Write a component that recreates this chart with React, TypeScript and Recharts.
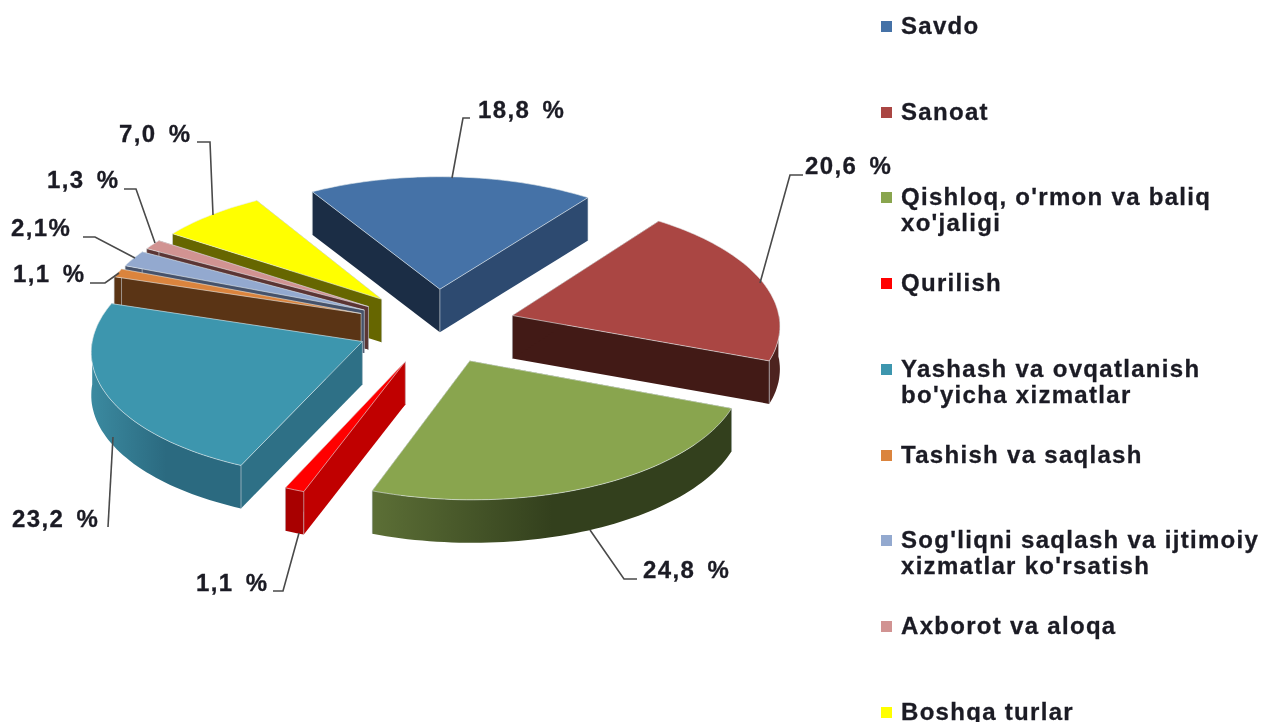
import React from 'react';
import { PieChart, Pie, Legend } from 'recharts';

const NAMES = [
  'Savdo',
  'Sanoat',
  "Qishloq, o'rmon va baliq xo'jaligi",
  'Qurilish',
  "Yashash va ovqatlanish bo'yicha xizmatlar",
  'Tashish va saqlash',
  "Sog'liqni saqlash va ijtimoiy xizmatlar ko'rsatish",
  'Axborot va aloqa',
  'Boshqa turlar',
];
const VALUES = [18.8, 20.6, 24.8, 1.1, 23.2, 1.1, 2.1, 1.3, 7.0];
const VALUE_LABELS = ['18,8 %', '20,6 %', '24,8 %', '1,1 %', '23,2 %', '1,1 %', '2,1%', '1,3 %', '7,0 %'];
const TOP_COLORS = ['#4572a7', '#aa4643', '#89a54e', '#ff0000', '#3d96ae', '#db843d', '#93a9cf', '#d19392', '#ffff00'];
// side wall colours: wall at clockwise start, wall at clockwise end, outer rim left, outer rim right
const SIDE_COLORS = [
  ['#1b2d45', '#2d4a70', '#2d4a70', '#2d4a70'],
  ['#421a16', '#421a16', '#4d231f', '#4d231f'],
  ['#33401d', '#33401d', '#5c6f36', '#33401d'],
  ['#c00000', '#c00000', '#a80000', '#a80000'],
  ['#2e7086', '#2e7086', '#3b8aa0', '#2b6a80'],
  ['#5a3415', '#5a3415', '#5a3415', '#5a3415'],
  ['#46526a', '#46526a', '#46526a', '#46526a'],
  ['#5b3534', '#5b3534', '#5b3534', '#5b3534'],
  ['#666600', '#666600', '#666600', '#666600'],
];
// label text spot, then leader line elbow and end, one per slice
const LABEL_SPOTS = [
  { x: 478, y: 118, line: '470,118 463,118 452,178' },
  { x: 805, y: 174, line: '803,175 790,175 760,283' },
  { x: 643, y: 578, line: '637,579 624,579 590,530' },
  { x: 196, y: 591, line: '273,591 283,591 299,533' },
  { x: 12, y: 527, line: '108,527 113,437' },
  { x: 13, y: 282, line: '90,283 105,283 119,273' },
  { x: 11, y: 236, line: '83,237 95,237 135,258' },
  { x: 47, y: 188, line: '124,189 136,189 155,243' },
  { x: 119, y: 142, line: '197,142 210,142 213,215' },
];

const FLAT = 0.47;
const PERSPECTIVE = 0.00025;
const EXPLODE = 80;
const DEPTH = 43;
const RAD = Math.PI / 180;
const FONT = '"Liberation Sans", Arial, sans-serif';

// painter's order: back slices first, so the table runs against the clock from Boshqa turlar
const table = NAMES.map((name, i) => ({ name, value: VALUES[i], fill: TOP_COLORS[i] })).reverse();

const poly = (pts: number[][]) => 'M' + pts.map((p) => p[0].toFixed(1) + ',' + p[1].toFixed(1)).join('L') + 'Z';

const Slice3D = (props: any) => {
  const { cx, cy, startAngle, endAngle, outerRadius, name, fill } = props;
  const idx = NAMES.indexOf(name);
  const sides = SIDE_COLORS[idx];
  const mid = ((startAngle + endAngle) / 2) * RAD;
  const ex = EXPLODE * Math.cos(mid);
  const ey = -EXPLODE * Math.sin(mid);
  const project = (gx: number, gy: number) => {
    const s = 1 + gy * PERSPECTIVE;
    return [cx + gx * s, cy + gy * FLAT * s];
  };
  const down = (p: number[]) => [p[0], p[1] + DEPTH];
  const steps = Math.ceil(Math.abs(endAngle - startAngle) / 1.5) + 1;
  const arc: number[][] = [];
  const front: number[][] = [];
  for (let i = 0; i <= steps; i++) {
    const a = (startAngle + ((endAngle - startAngle) * i) / steps) * RAD;
    const p = project(ex + outerRadius * Math.cos(a), ey - outerRadius * Math.sin(a));
    arc.push(p);
    // only the part of the outer rim that faces the viewer
    if (Math.sin(a) < 0.02) front.push(p);
  }
  const apex = project(ex, ey);
  const endCorner = arc[0];
  const startCorner = arc[arc.length - 1];
  const rim = [...front, ...front.map(down).reverse()];
  const gradId = 'rim-' + idx;
  const edge = (p: number[]) => (
    <path d={`M${p[0]},${p[1]}V${p[1] + DEPTH}`} stroke="#cfd6dc" strokeOpacity={0.6} fill="none" />
  );
  return (
    <g>
      <defs>
        <linearGradient id={gradId} x1="0" y1="0" x2="1" y2="0">
          <stop offset="0" stopColor={sides[2]} />
          <stop offset="0.5" stopColor={sides[3]} />
          <stop offset="1" stopColor={sides[3]} />
        </linearGradient>
      </defs>
      <path d={poly([apex, endCorner, down(endCorner), down(apex)])} fill={sides[1]} />
      <path d={poly([apex, startCorner, down(startCorner), down(apex)])} fill={sides[0]} />
      {front.length > 1 && <path d={poly(rim)} fill={`url(#${gradId})`} />}
      {edge(apex)}
      {edge(endCorner)}
      {edge(startCorner)}
      <path d={poly([apex, ...arc])} fill={fill} stroke="#e6ecef" strokeOpacity={0.6} strokeWidth={1} />
    </g>
  );
};

const renderLabel = (props: any) => {
  const idx = NAMES.indexOf(props.name);
  const spot = LABEL_SPOTS[idx];
  return (
    <g>
      <polyline points={spot.line} fill="none" stroke="#4a4a4a" strokeWidth={1.6} />
      <text
        x={spot.x}
        y={spot.y}
        fontFamily={FONT}
        fontWeight={700}
        fontSize={24}
        letterSpacing={1.4}
        wordSpacing={4}
        fill="#1b1b24"
        stroke="#1b1b24"
        strokeWidth={0.3}
      >
        {VALUE_LABELS[idx]}
      </text>
    </g>
  );
};

const renderLegend = () => (
  <div style={{ position: 'relative', width: 383, height: 722 }}>
    {NAMES.map((name, i) => (
      <div key={name} style={{ position: 'absolute', left: 0, top: 13 + i * 85.7, width: 383 }}>
        <span
          style={{ position: 'absolute', left: 1, top: 8, width: 11, height: 11, background: TOP_COLORS[i] }}
        />
        <div
          style={{
            marginLeft: 21,
            width: 372,
            fontFamily: FONT,
            fontWeight: 700,
            fontSize: 24,
            letterSpacing: 1.3,
            lineHeight: '26px',
            color: '#1b1b24',
            WebkitTextStroke: '0.3px #1b1b24',
          }}
        >
          {name}
        </div>
      </div>
    ))}
  </div>
);

const App = () => (
  <div
    style={{
      position: 'absolute',
      left: 0,
      top: 0,
      width: 1263,
      height: 722,
      overflow: 'hidden',
      background: '#fff',
      filter: 'blur(0.6px)',
    }}
  >
    <PieChart width={1263} height={722} margin={{ top: 0, right: 0, bottom: 0, left: 0 }}>
      <Pie
        data={table}
        dataKey="value"
        nameKey="name"
        cx={436}
        cy={326}
        innerRadius={0}
        outerRadius={268}
        startAngle={121}
        endAngle={481}
        stroke="none"
        shape={Slice3D}
        label={renderLabel}
        labelLine={false}
        isAnimationActive={false}
      />
      <Legend
        layout="vertical"
        content={renderLegend}
        wrapperStyle={{ position: 'absolute', left: 880, top: 0, width: 383, height: 722 }}
      />
    </PieChart>
  </div>
);

export default App;
